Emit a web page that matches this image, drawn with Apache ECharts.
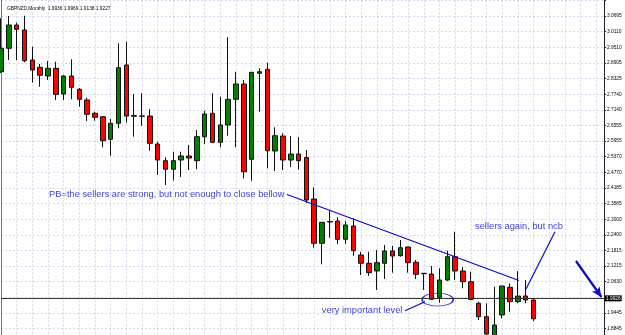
<!DOCTYPE html>
<html>
<head>
<meta charset="utf-8">
<script src="https://cdn.jsdelivr.net/npm/echarts@6/dist/echarts.min.js"></script>
<style>html,body{margin:0;padding:0;background:#fff;}#c{width:625px;height:335px;}</style>
</head>
<body>
<div id="c"></div>
<script>
// ---- data (GBPNZD monthly) ----
const slotCount = 78; // 69 candles + empty right shift
const categories = Array.from({length: slotCount}, (_, i) => 'M' + (i + 1));
const open = [
  2.8586, 2.9473, 3.0355, 3.0166, 2.9029, 2.8753, 2.8423, 2.8715, 2.7741, 2.8423,
  2.7919, 2.7514, 2.7010, 2.6881, 2.6025, 2.6631, 2.8840, 2.6927, 2.6908, 2.6908,
  2.5847, 2.5215, 2.4889, 2.5241, 2.5393, 2.5215, 2.6124, 2.7010, 2.5912, 2.6567,
  2.7541, 2.8120, 2.5268, 2.8526, 2.8677, 2.5582, 2.6150, 2.5241, 2.5468, 2.5336,
  2.3764, 2.2085, 2.2911, 2.2930, 2.2237, 2.2741, 2.1642, 2.1328, 2.1036, 2.1328,
  2.1794, 2.1616, 2.1945, 2.1366, 2.0949, 2.0922, 2.0040, 2.0695, 2.1578, 2.1036,
  2.0631, 1.9813, 1.9305, 1.8574, 1.9369, 2.0419, 1.9873, 2.0089, 1.9936];
const close = [
  2.9473, 3.0355, 3.0192, 2.9003, 2.8651, 2.8450, 2.8715, 2.7730, 2.8423, 2.7995,
  2.7541, 2.6972, 2.6859, 2.5972, 2.6631, 2.8738, 2.6908, 2.6900, 2.6897, 2.5874,
  2.5241, 2.4889, 2.5215, 2.5393, 2.5317, 2.6124, 2.6984, 2.5912, 2.6567, 2.7541,
  2.8120, 2.4798, 2.8563, 2.8586, 2.5593, 2.6162, 2.5241, 2.5468, 2.5215, 2.3726,
  2.2085, 2.2881, 2.2892, 2.2237, 2.2779, 2.1805, 2.1328, 2.0972, 2.1351, 2.1794,
  2.1604, 2.1919, 2.1351, 2.0911, 2.0934, 1.9964, 2.0695, 2.1578, 2.1036, 2.0631,
  1.9964, 1.9305, 1.8650, 1.8990, 2.0468, 1.9873, 2.0089, 1.9938, 1.9227];
const low = [
  2.8537, 2.9029, 2.9029, 2.8942, 2.8170, 2.8018, 2.8272, 2.7514, 2.7514, 2.7541,
  2.7260, 2.6719, 2.6730, 2.5722, 2.5404, 2.6442, 2.6654, 2.6124, 2.6529, 2.5593,
  2.4673, 2.4294, 2.4465, 2.4597, 2.4862, 2.4889, 2.5847, 2.5885, 2.5722, 2.6162,
  2.5722, 2.4548, 2.4457, 2.7071, 2.4927, 2.4824, 2.4862, 2.4976, 2.4881, 2.3612,
  2.1919, 2.1290, 2.2298, 2.2048, 2.2059, 2.1616, 2.0885, 2.0847, 2.0316, 2.0733,
  2.0972, 2.1578, 2.0972, 2.0733, 2.0316, 1.9938, 1.9835, 2.0657, 2.0695, 2.0381,
  1.9919, 1.9180, 1.8498, 1.8498, 1.9244, 1.9494, 1.9813, 1.9813, 1.9138];
const high = [
  3.0609, 3.0696, 3.0442, 3.0708, 2.9533, 2.8878, 2.8992, 2.8965, 2.8461, 2.9056,
  2.7969, 2.7601, 2.7071, 2.6908, 2.6794, 2.9662, 2.9723, 2.7741, 2.7768, 2.7162,
  2.5934, 2.5343, 2.5556, 2.5556, 2.5809, 2.6378, 2.7109, 2.7768, 2.7639, 2.9901,
  2.8586, 2.8272, 2.8575, 2.8715, 2.8927, 2.6480, 2.6253, 2.6150, 2.6112, 2.5620,
  2.4207, 2.2892, 2.3320, 2.3070, 2.2930, 2.3033, 2.1767, 2.1767, 2.1832, 2.2021,
  2.1983, 2.2211, 2.1964, 2.1453, 2.0960, 2.1226, 2.1138, 2.1805, 2.2525, 2.1176,
  2.1010, 1.9873, 1.9813, 2.0441, 2.0468, 2.0570, 2.1036, 2.0695, 1.9969];
// price-axis tick labels, bottom (step -1) to top (step 19)
const yTickLabels = ['1.8845', '1.9445', '', '2.0630', '2.1215', '2.1815', '2.2400', '2.3000',
  '2.3585', '2.4185', '2.4770', '2.5370', '2.5955', '2.6555', '2.7140', '2.7740', '2.8325',
  '2.8905', '2.9510', '3.0110', '3.0695'];
const tickBase = 1.9445, tickStep = 0.0592105;
const headerText = 'GBPNZD,Monthly  1.9936 1.9969 1.9138 1.9227';
const levelPrice = 1.9964, levelLabel = '1.9926';
const lastPrice = 1.9227, lastLabel = '1.9227';
// annotations: [slot position, price]
const trendLine = [[36.52, 2.3934], [66.14, 2.0676]];
const levelPointer = [[51.58, 1.9532], [54.14, 1.9873]];
const ncbPointer = [[70.74, 2.2525], [67.03, 2.0343]];
const ellipseCenter = [55.76, 1.9949];
const arrowLine = [[73.42, 2.1415], [76.67, 2.0051]];
const ncbTextPos = [66.14, 2.2741];
const textPB = 'PB=the sellers are strong, but not enough to close bellow';
const textLevel = 'very important level';
const textNcb = 'sellers again, but ncb';

// ---- chart ----
const candles = open.map((o, i) => [o, close[i], low[i], high[i]]);
const BLUE = '#0a0ac8';
const FONT = 'Liberation Sans, Arial, sans-serif';
const chart = echarts.init(document.getElementById('c'), null, {renderer: 'canvas'});
const gridLine = {show: true, lineStyle: {color: '#d6d6ee', type: [2, 2], width: 1}};
const boxLabel = (txt) => ({show: true, position: 'end', distance: 1, formatter: txt,
  backgroundColor: '#000', color: '#fff', fontSize: 4.8, fontFamily: FONT, padding: [1, 1, 0, 1]});
chart.setOption({
  animation: false,
  title: {text: headerText, left: 2, top: 1,
    textStyle: {fontSize: 4.8, fontWeight: 'normal', color: '#000', fontFamily: FONT}},
  grid: {left: 1, right: 21, top: 0.4, bottom: -9.26, containLabel: false, outerBoundsMode: 'none'},
  xAxis: [
    {type: 'category', data: categories, boundaryGap: false,
     axisLine: {show: false}, axisTick: {show: false}, axisLabel: {show: false},
     splitLine: Object.assign({interval: 1}, gridLine)},
    {type: 'value', min: 0, max: slotCount - 1, show: false}
  ],
  yAxis: [
    {type: 'value', position: 'left', min: tickBase - 2 * tickStep, max: tickBase + 20 * tickStep,
     axisLine: {show: true, lineStyle: {color: '#777'}}, axisTick: {show: false},
     axisLabel: {show: false}, splitLine: {show: false}},
    {type: 'value', position: 'right', min: -2, max: 20, interval: 1,
     axisLine: {show: true, lineStyle: {color: '#222', width: 1}},
     axisTick: {show: true, length: 2, lineStyle: {color: '#222'}},
     axisLabel: {margin: 3, fontSize: 4.8, color: '#000', fontFamily: FONT,
       formatter: (v) => { const k = Math.round(v) + 1; return yTickLabels[k] || ''; }},
     splitLine: gridLine}
  ],
  series: [
    {type: 'candlestick', xAxisIndex: 0, yAxisIndex: 0, data: candles, barWidth: 5, clip: true,
     itemStyle: {color: '#008000', color0: '#ff0000', borderColor: '#111', borderColor0: '#111', borderWidth: 1},
     markLine: {silent: true, symbol: 'none', animation: false,
       data: [
         {yAxis: levelPrice, lineStyle: {color: '#333', width: 1, type: 'solid'}, label: boxLabel(levelLabel)},
         {yAxis: lastPrice, lineStyle: {opacity: 0}, label: boxLabel(lastLabel)}
       ]}},
    {type: 'line', xAxisIndex: 1, yAxisIndex: 0, data: trendLine, symbol: 'none',
     lineStyle: {color: BLUE, width: 1.3}, silent: true,
     markLine: {silent: true, symbol: ['none', 'arrow'], symbolSize: [7, 10],
       lineStyle: {color: BLUE, width: 2.2, type: 'solid'}, label: {show: false},
       data: [[{coord: arrowLine[0]}, {coord: arrowLine[1]}]]}},
    {type: 'line', xAxisIndex: 1, yAxisIndex: 0, data: levelPointer, symbol: 'none',
     lineStyle: {color: BLUE, width: 1.2}, silent: true},
    {type: 'line', xAxisIndex: 1, yAxisIndex: 0, data: ncbPointer, symbol: 'none',
     lineStyle: {color: BLUE, width: 1.2}, silent: true},
    {type: 'scatter', xAxisIndex: 1, yAxisIndex: 0, silent: true,
     symbol: 'path://M0,6A15,6 0 1,0 30,6A15,6 0 1,0 0,6Z', symbolSize: [31, 13],
     itemStyle: {color: 'rgba(0,0,0,0)', borderColor: BLUE, borderWidth: 1.2},
     data: [ellipseCenter]},
    {type: 'scatter', xAxisIndex: 1, yAxisIndex: 0, silent: true, symbolSize: 1,
     itemStyle: {color: 'rgba(0,0,0,0)'},
     label: {show: true, color: BLUE, fontSize: 9.3, fontFamily: FONT},
     data: [
       {value: trendLine[0], label: {formatter: textPB, position: 'left', distance: 2}},
       {value: levelPointer[0], label: {formatter: textLevel, position: 'left', distance: 2}},
       {value: ncbTextPos, label: {formatter: textNcb, position: 'inside'}}
     ]}
  ]
});
</script>
</body>
</html>
